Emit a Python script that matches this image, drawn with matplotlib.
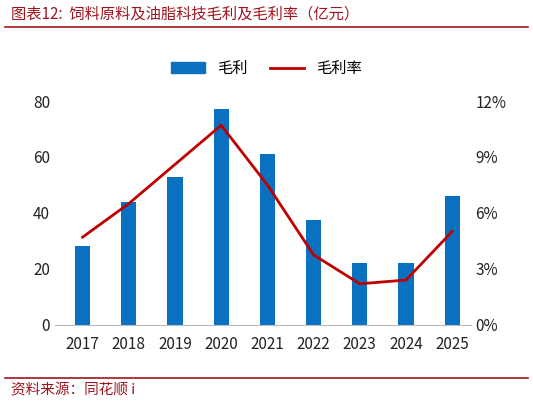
import matplotlib.pyplot as plt
from matplotlib.lines import Line2D

plt.rcParams["font.family"] = ["Noto Sans CJK SC", "DejaVu Sans"]

years = ["2017", "2018", "2019", "2020", "2021", "2022", "2023", "2024", "2025"]
gross_profit = [28, 44, 53, 77, 61, 37.5, 22, 22, 46]
gross_margin = [4.7, 6.5, 8.6, 10.7, 7.5, 3.75, 2.2, 2.4, 5.0]

BLUE = "#0a70c0"
RED = "#c00000"
TITLE_RED = "#a0141e"

fig = plt.figure(figsize=(5.33, 4.04), dpi=100)
ax = fig.add_axes([0.103, 0.196, 0.78, 0.554])
ax2 = ax.twinx()

x = range(len(years))
ax.bar(x, gross_profit, width=0.33, color=BLUE, label="毛利", zorder=2)
ax2.plot(x, gross_margin, color=RED, lw=2, label="毛利率", zorder=3)

ax.set_ylim(0, 80)
ax.set_yticks([0, 20, 40, 60, 80])
ax2.set_ylim(0, 12)
ax2.set_yticks([0, 3, 6, 9, 12])
ax2.set_yticklabels([f"{v}%" for v in [0, 3, 6, 9, 12]])
ax.set_xlim(-0.6, 8.4)
ax.set_xticks(list(x))
ax.set_xticklabels(years)

for a in (ax, ax2):
    for s in ("top", "left", "right"):
        a.spines[s].set_visible(False)
    a.tick_params(length=0, labelsize=11, colors="#222222")
ax.spines["bottom"].set_color("#bbbbbb")
ax2.spines["bottom"].set_visible(False)
ax.tick_params(axis="x", pad=8)

handles = [plt.Rectangle((0, 0), 1, 1, color=BLUE), Line2D([0], [0], color=RED, lw=2)]
fig.legend(handles, ["毛利", "毛利率"], loc="center", bbox_to_anchor=(0.5, 0.83),
           ncol=2, frameon=False, fontsize=11, handlelength=2.2, columnspacing=1.5)

fig.text(0.02, 0.965, "图表12:  饲料原料及油脂科技毛利及毛利率（亿元）", color=TITLE_RED,
         fontsize=11, style="italic", va="center")
fig.add_artist(Line2D([0.01, 0.99], [0.933, 0.933], color=TITLE_RED, lw=1.2))
fig.add_artist(Line2D([0.01, 0.99], [0.064, 0.064], color=TITLE_RED, lw=1.2))
fig.text(0.02, 0.035, "资料来源：同花顺 i", color=TITLE_RED, fontsize=10.5,
         style="italic", va="center")

fig.savefig("out.png", dpi=100)
